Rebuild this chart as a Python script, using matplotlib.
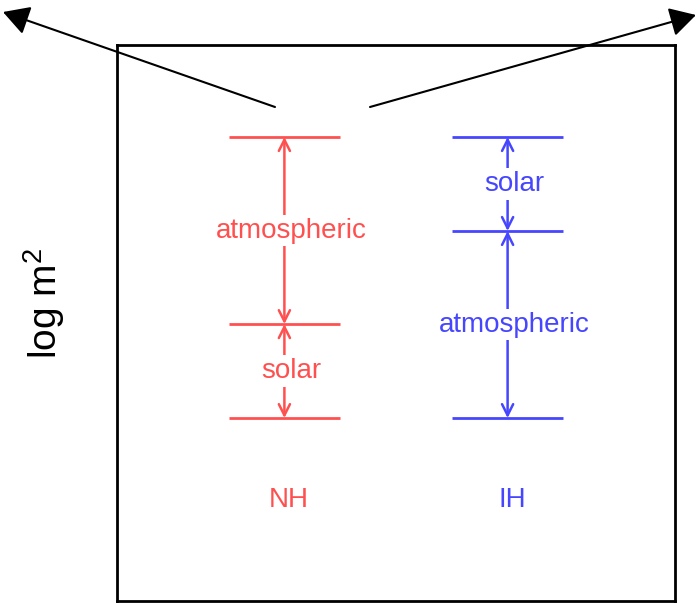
import matplotlib.pyplot as plt
from matplotlib.patches import FancyArrowPatch

plt.rcParams['font.family'] = ['Liberation Sans', 'DejaVu Sans']
plt.rcParams['mathtext.fontset'] = 'custom'
plt.rcParams['mathtext.rm'] = 'Liberation Sans'

# hierarchy data (y = log m^2, arbitrary units)
hierarchies = ['NH', 'IH']
x_centers = [0.30, 0.70]
colors = ['#ff5050', '#4646ff']
nh_levels = [0.329, 0.498, 0.8345]
ih_levels = [0.329, 0.6655, 0.8345]
nh_bands = ['solar', 'atmospheric']
ih_bands = ['atmospheric', 'solar']
label_y = 0.182

fig = plt.figure(figsize=(6.97, 6.04), dpi=100)
ax = fig.add_axes([117 / 697, 3 / 604, 558 / 697, 556 / 604])
ax.set_xlim(0, 1)
ax.set_ylim(0, 1)
ax.set_xticks([])
ax.set_yticks([])
for s in ax.spines.values():
    s.set_linewidth(2)

fig.text(44 / 697, (604 - 303) / 604, r'log m$^\mathregular{2}$', fontsize=28,
         rotation=90, ha='center', va='center')

for name, xc, col, levels, bands in zip(hierarchies, x_centers, colors,
                                        [nh_levels, ih_levels], [nh_bands, ih_bands]):
    # mass levels
    ax.hlines(levels, xc - 0.1, xc + 0.1, color=col, lw=2)
    # splittings between levels
    for lo, hi, band in zip(levels[:-1], levels[1:], bands):
        ax.annotate('', xy=(xc, hi), xytext=(xc, lo),
                    arrowprops=dict(arrowstyle='<->', color=col, lw=1.8,
                                    mutation_scale=20, shrinkA=0, shrinkB=0))
        ax.text(xc + 0.012, (lo + hi) / 2, band, color=col, fontsize=20,
                ha='center', va='center',
                bbox=dict(facecolor='white', edgecolor='none', pad=2))
    ax.text(xc + 0.008, label_y, name, color=col, fontsize=20,
            ha='center', va='center')

# outgoing arrows above the box
for start, end in [((275, 497), (3, 592)), ((370, 497), (696, 589))]:
    arr = FancyArrowPatch(start, end, transform=None,
                          arrowstyle='-|>,head_length=0.8,head_width=0.45',
                          mutation_scale=20, lw=1.5, color='black',
                          shrinkA=0, shrinkB=0)
    fig.add_artist(arr)

fig.savefig('out.png', dpi=100, facecolor='white')
